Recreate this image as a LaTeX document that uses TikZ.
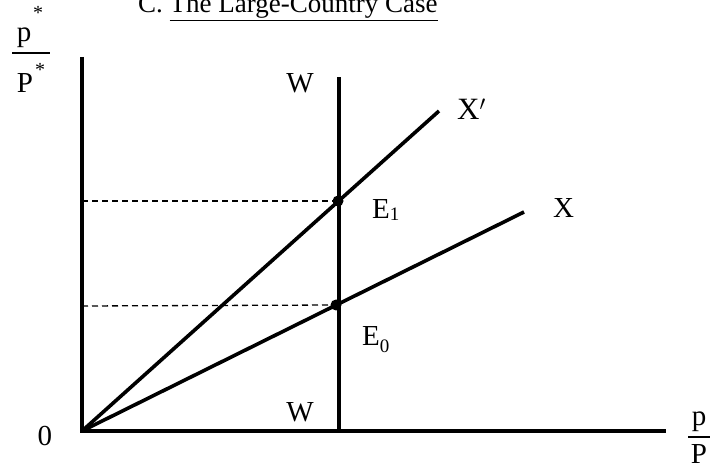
\documentclass[tikz,border=0pt]{standalone}
\usepackage{fontspec}
\setmainfont{Liberation Serif}
\begin{document}
\begin{tikzpicture}[x=1pt,y=-1pt,
  lbl/.style={inner sep=0pt,font=\fontsize{29}{32}\selectfont},
  star/.style={inner sep=0pt,font=\fontsize{20}{22}\selectfont},
  thick line/.style={line width=3.6pt},
  fracbar/.style={line width=1.8pt},
  guide/.style={line width=1.3pt,dash pattern=on 6pt off 4pt},
  dot/.style={circle,fill=black,inner sep=0pt,minimum size=11pt}]
\useasboundingbox (0,0) rectangle (713,465);
\coordinate (O) at (82,431);
\coordinate (ytop) at (82,57);
\coordinate (xend) at (666,431);
\coordinate (Wtop) at (339,77);
\coordinate (Wbot) at (339,431);
\coordinate (Xpend) at (439,111);
\coordinate (Xend) at (524,212);
\coordinate (yE1) at (82,201);
\coordinate (yE0) at (82,306);
\draw[thick line] (ytop) -- (O) -- (xend);
\draw[thick line] (Wbot) -- (Wtop);
\draw[thick line] (O) -- (Xpend);
\draw[thick line] (O) -- (Xend);
\node[dot] (E1) at (338,201) {};
\node[dot] (E0) at (336,305) {};
\draw[guide] (yE1) -- (E1);
\draw[guide] (yE0) -- (E0);
% title
\node[lbl,anchor=base west,font=\fontsize{27}{30}\selectfont] (tC) at (138,13) {C. \underline{The Large-Country Case}};
% curve labels
\node[lbl,anchor=base west,font=\fontsize{31}{34}\selectfont] (lXp) at (457,120) {X$'$};
\node[lbl,anchor=base west] (lX) at (553,218) {X};
\node[lbl,anchor=base west] (lE1) at (372,219) {E\raisebox{-2pt}{\fontsize{19}{19}\selectfont 1}};
\node[lbl,anchor=base west] (lE0) at (362,346) {E\raisebox{-7pt}{\fontsize{19}{19}\selectfont 0}};
\node[lbl,anchor=base] (lWt) at (300,93) {W};
\node[lbl,anchor=base] (lWb) at (300,421) {W};
\node[lbl,anchor=base] (l0) at (45,446) {0};
% p/P on horizontal axis
\node[lbl,anchor=base] (hp) at (699,425) {p};
\node[lbl,anchor=base] (hP) at (699,463) {P};
\coordinate (hb1) at (688,437);
\coordinate (hb2) at (710,437);
\draw[fracbar] (hb1) -- (hb2);
% p*/P* on vertical axis
\node[lbl,anchor=base] (vp) at (24,42) {p};
\node[star] (vps) at (38,13) {*};
\node[lbl,anchor=base] (vP) at (25,93) {P};
\node[star] (vPs) at (40,70) {*};
\coordinate (vb1) at (12,53);
\coordinate (vb2) at (50,53);
\draw[fracbar] (vb1) -- (vb2);
\end{tikzpicture}
\end{document}
